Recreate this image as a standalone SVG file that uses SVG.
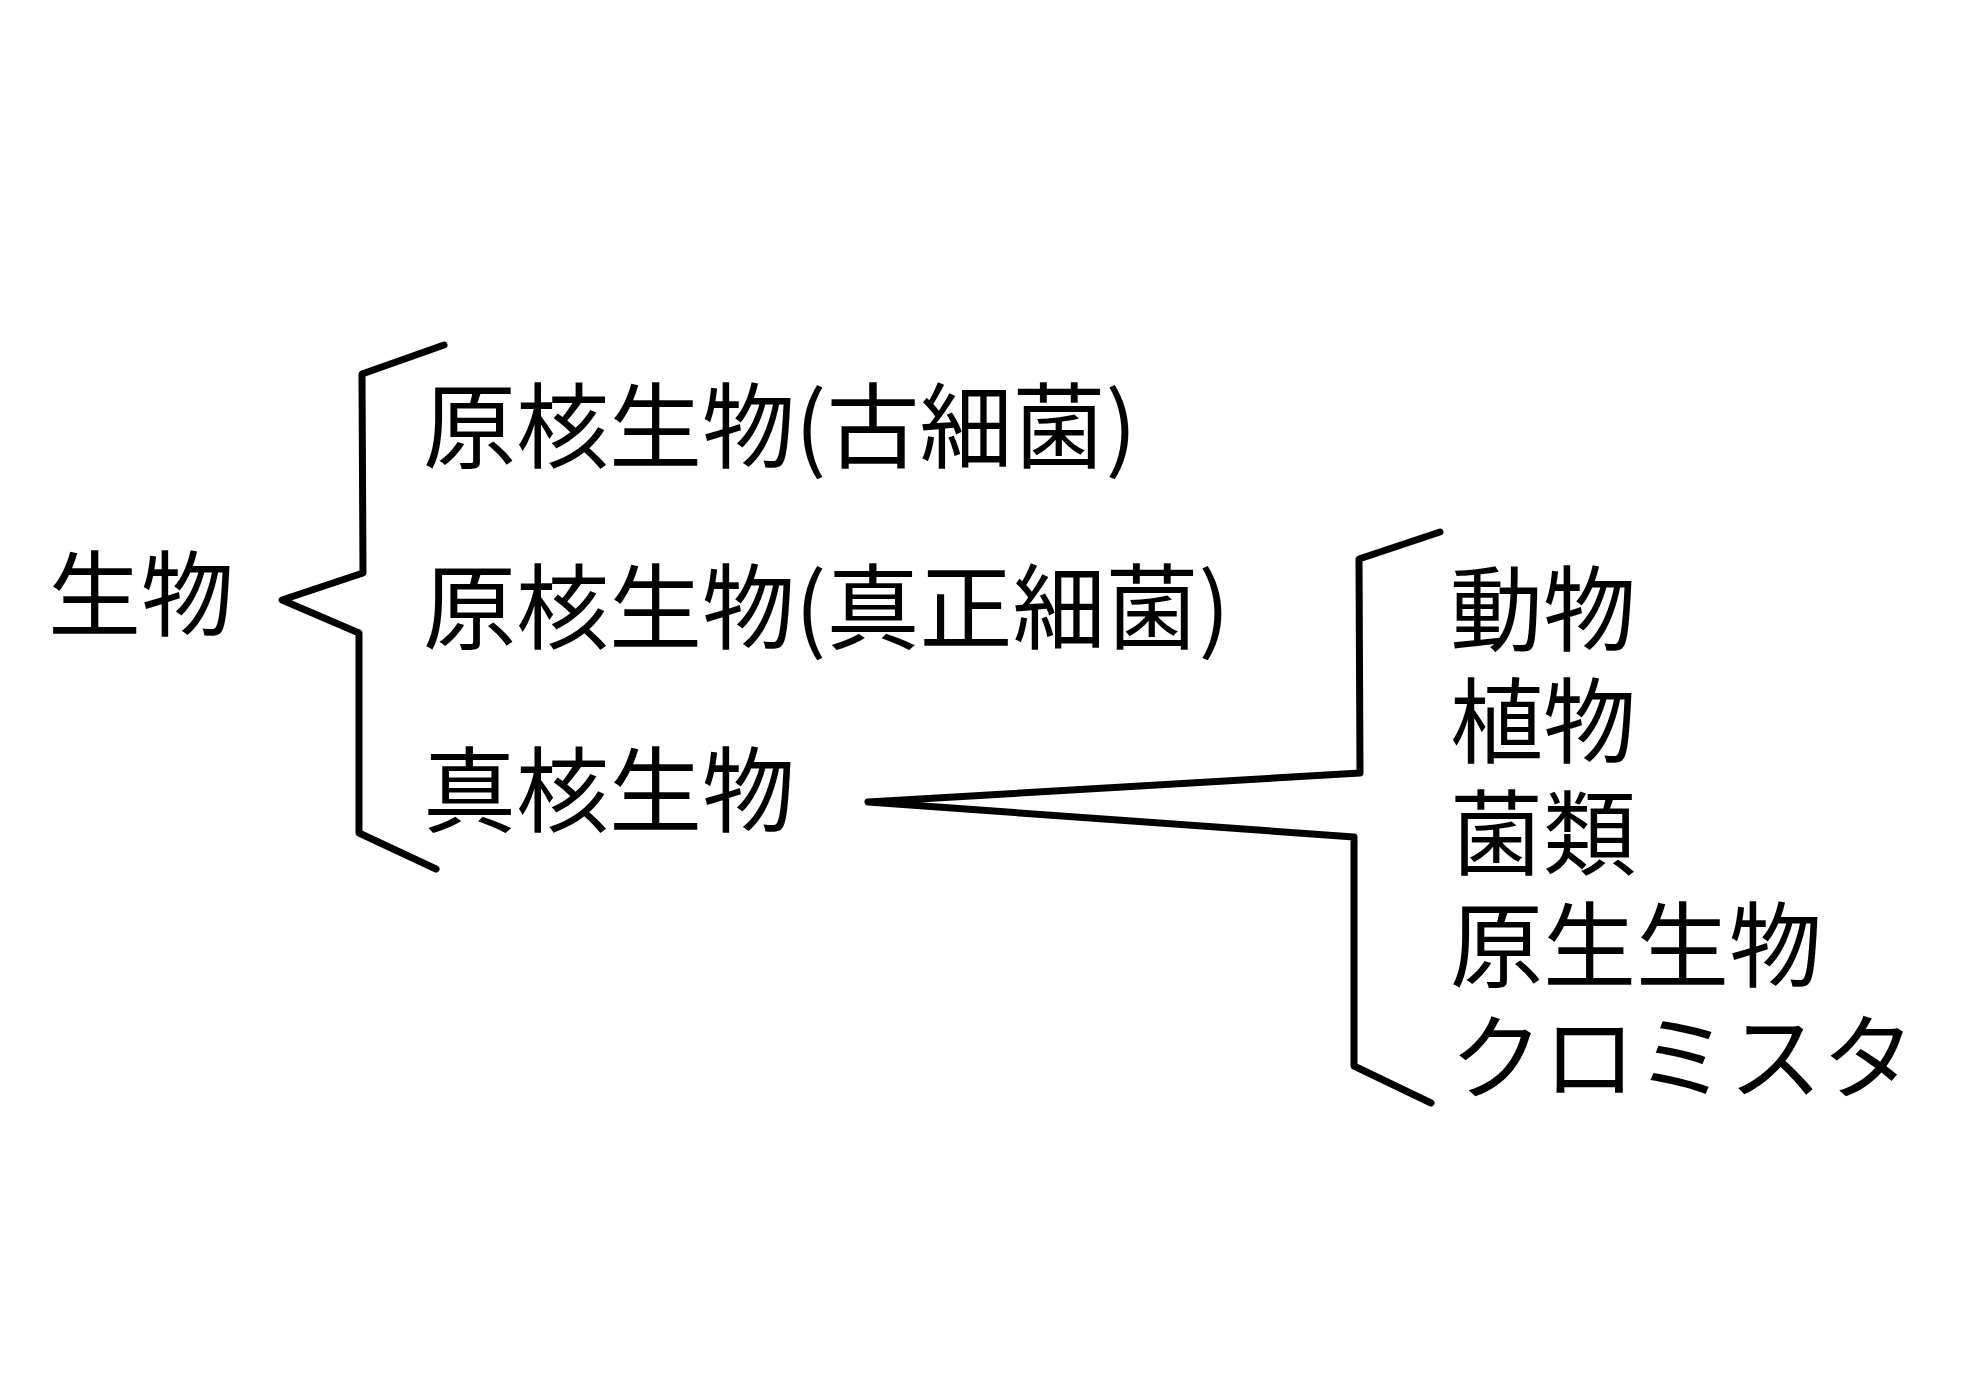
<svg xmlns="http://www.w3.org/2000/svg" width="1980" height="1400" viewBox="0 0 1980 1400">
<style>
.t{font-family:"Noto Sans CJK JP","Noto Sans",sans-serif;font-size:93px;fill:#000}
.b{fill:none;stroke:#000;stroke-width:7;stroke-linejoin:round;stroke-linecap:round}
</style>
<rect width="1980" height="1400" fill="#fff"/>
<g id="connectors">
<path class="b" d="M444,345 L362,374 L363,573 L282,600 L359,633 L359,833 L436,869"/>
<path class="b" d="M1440,532 L1359,559 L1360,773 L868,802 L1354,837 L1354,1066 L1431,1103"/>
</g>
<g id="root"><text class="t" x="48" y="629">生物</text></g>
<g id="archaea"><text class="t" x="423" y="461">原核生物(古細菌)</text></g>
<g id="bacteria"><text class="t" x="423" y="642">原核生物(真正細菌)</text></g>
<g id="eukaryote"><text class="t" x="423" y="825">真核生物</text></g>
<g id="animals"><text class="t" x="1450" y="644">動物</text></g>
<g id="plants"><text class="t" x="1450" y="756">植物</text></g>
<g id="fungi"><text class="t" x="1450" y="868">菌類</text></g>
<g id="protists"><text class="t" x="1450" y="980">原生生物</text></g>
<g id="chromista"><text class="t" x="1450" y="1092">クロミスタ</text></g>
</svg>
